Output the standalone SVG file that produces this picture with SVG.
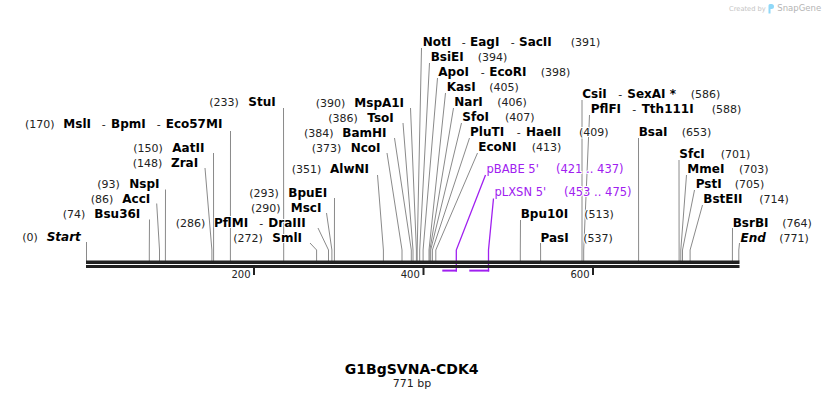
<svg xmlns="http://www.w3.org/2000/svg" width="826" height="400" viewBox="0 0 826 400">
<defs>
<style>
text{paint-order:stroke;stroke:#fff;stroke-width:2px;stroke-linejoin:round}
.b{font-family:"DejaVu Sans",Verdana,sans-serif;font-weight:bold;font-size:12px;fill:#000}
.bi{font-family:"DejaVu Sans",Verdana,sans-serif;font-weight:bold;font-style:italic;font-size:12px;fill:#000}
.n{font-family:"DejaVu Sans",Verdana,sans-serif;font-size:11px;fill:#222}
.f{font-family:"DejaVu Sans",Verdana,sans-serif;font-size:11.5px;fill:#a020f0}
.t{font-family:"DejaVu Sans",Verdana,sans-serif;font-size:10px;fill:#222;text-anchor:end}
.ln{fill:none;stroke:#8a8a8a;stroke-width:1}
.fl{fill:none;stroke:#a020f0;stroke-width:1.3}
.fb{stroke:#a020f0;stroke-width:2}
</style>
</defs>
<rect width="826" height="400" fill="#fff"/>

<g id="connectors">
<polyline class="ln" points="86.5,242 86.5,261"/>
<polyline class="ln" points="149.5,219.5 149.3,250 149.3,261"/>
<polyline class="ln" points="156.7,203.5 159.5,250 159.5,261"/>
<polyline class="ln" points="165.5,189.5 165.4,250 165.4,261"/>
<polyline class="ln" points="205,168 211.9,250 211.9,261"/>
<polyline class="ln" points="213.5,153 213.6,250 213.6,261"/>
<polyline class="ln" points="230.5,131 230.4,250 230.4,261"/>
<polyline class="ln" points="283.5,108 283.7,250 283.7,261"/>
<polyline class="ln" points="318,228 328.5,250 328.5,261"/>
<polyline class="ln" points="310,243 316.6,250 316.6,261"/>
<polyline class="ln" points="326.5,213 331.9,250 331.9,261"/>
<polyline class="ln" points="334.5,198 334.4,250 334.4,261"/>
<polyline class="ln" points="377.5,175 383.4,250 383.4,261"/>
<polyline class="ln" points="387,153 402,250 402,261"/>
<polyline class="ln" points="394.5,138 411.3,250 411.3,261"/>
<polyline class="ln" points="403,123 413,250 413,261"/>
<polyline class="ln" points="410.5,108 416.4,250 416.4,261"/>
<polyline class="ln" points="421.5,48 417.2,250 417.2,261"/>
<polyline class="ln" points="429.5,63 419.7,250 419.7,261"/>
<polyline class="ln" points="437.5,78 423.1,250 423.1,261"/>
<polyline class="ln" points="445.5,93 429,250 429,261"/>
<polyline class="ln" points="453.5,108 429.9,250 429.9,261"/>
<polyline class="ln" points="461.5,123 430.7,250 430.7,261"/>
<polyline class="ln" points="469.5,138 432.4,250 432.4,261"/>
<polyline class="ln" points="477.5,153 435.8,250 435.8,261"/>
<polyline class="ln" points="520.5,220 520.3,250 520.3,261"/>
<polyline class="ln" points="540.5,243 540.6,250 540.6,261"/>
<polyline class="ln" points="582,100 582,250 582,261"/>
<polyline class="ln" points="589.5,115 583.7,250 583.7,261"/>
<polyline class="ln" points="638.5,138 638.6,250 638.6,261"/>
<polyline class="ln" points="679,160 679.1,250 679.1,261"/>
<polyline class="ln" points="686.5,175 680.8,250 680.8,261"/>
<polyline class="ln" points="694.5,190 682.5,250 682.5,261"/>
<polyline class="ln" points="702.5,205 690.1,250 690.1,261"/>
<polyline class="ln" points="732.5,228 732.4,250 732.4,261"/>
<polyline class="ln" points="739.5,243 738.8,250 738.8,261"/>
<polyline class="fl" points="485.5,175 456.3,250 456.3,271.5"/>
<line class="fb" x1="442.3" y1="270.6" x2="457" y2="270.6"/>
<polyline class="fl" points="493.5,198.5 488.5,250 488.5,271.5"/>
<line class="fb" x1="469.3" y1="270.6" x2="489.2" y2="270.6"/>
</g>

<g id="sequence">
<rect x="86" y="260.5" width="653.5" height="3.5" fill="#222"/>
<rect x="86" y="265" width="653.5" height="3" fill="#222"/>
<rect x="253" y="267" width="2" height="8" fill="#222"/>
<rect x="422.5" y="267" width="2" height="8" fill="#222"/>
<rect x="592" y="267" width="2" height="8" fill="#222"/>
<text class="t" x="250.5" y="277.5">200</text>
<text class="t" x="419.8" y="277.5">400</text>
<text class="t" x="589.5" y="277.5">600</text>
</g>

<g id="site-start"><text class="n" x="22.3" y="241">(0)</text><text class="bi" x="46.7" y="241">Start</text></g>
<g id="site-bsu36i"><text class="n" x="62.7" y="218">(74)</text><text class="b" x="94.3" y="218">Bsu36I</text></g>
<g id="site-acci"><text class="n" x="90.7" y="202.7">(86)</text><text class="b" x="122.3" y="202.7">AccI</text></g>
<g id="site-nspi"><text class="n" x="97.3" y="188">(93)</text><text class="b" x="129.3" y="188">NspI</text></g>
<g id="site-zrai"><text class="n" x="132.7" y="166.5">(148)</text><text class="b" x="171" y="166.5">ZraI</text></g>
<g id="site-aatii"><text class="n" x="133.3" y="151.5">(150)</text><text class="b" x="172.3" y="151.5">AatII</text></g>
<g id="site-msli"><text class="n" x="25" y="128.3">(170)</text><text class="b" x="63.3" y="128.3">MslI</text><text class="n" x="101.7" y="128.3">-</text><text class="b" x="111" y="128.3">BpmI</text><text class="n" x="156.7" y="128.3">-</text><text class="b" x="165.7" y="128.3">Eco57MI</text></g>
<g id="site-stui"><text class="n" x="209.3" y="106">(233)</text><text class="b" x="248.3" y="106">StuI</text></g>
<g id="site-pflmi"><text class="n" x="175.7" y="226.5">(286)</text><text class="b" x="214" y="226.5">PflMI</text><text class="n" x="259.3" y="226.5">-</text><text class="b" x="268.3" y="226.5">DraIII</text></g>
<g id="site-smli"><text class="n" x="233.3" y="241.5">(272)</text><text class="b" x="272.3" y="241.5">SmlI</text></g>
<g id="site-msci"><text class="n" x="251" y="211.5">(290)</text><text class="b" x="290.7" y="211.5">MscI</text></g>
<g id="site-bpuei"><text class="n" x="249.3" y="196.5">(293)</text><text class="b" x="288.3" y="196.5">BpuEI</text></g>
<g id="site-alwni"><text class="n" x="291.7" y="173">(351)</text><text class="b" x="330" y="173">AlwNI</text></g>
<g id="site-ncoi"><text class="n" x="311.7" y="151.5">(373)</text><text class="b" x="350.7" y="151.5">NcoI</text></g>
<g id="site-bamhi"><text class="n" x="304" y="136.5">(384)</text><text class="b" x="342.3" y="136.5">BamHI</text></g>
<g id="site-tsoi"><text class="n" x="328.3" y="121.5">(386)</text><text class="b" x="367.3" y="121.5">TsoI</text></g>
<g id="site-mspa1i"><text class="n" x="315.7" y="106.5">(390)</text><text class="b" x="354.3" y="106.5">MspA1I</text></g>

<g id="site-noti"><text class="b" x="422.7" y="46">NotI</text><text class="n" x="461.7" y="46">-</text><text class="b" x="470" y="46">EagI</text><text class="n" x="510.7" y="46">-</text><text class="b" x="519" y="46">SacII</text><text class="n" x="570.7" y="46">(391)</text></g>
<g id="site-bsiei"><text class="b" x="430.7" y="61">BsiEI</text><text class="n" x="477.7" y="61">(394)</text></g>
<g id="site-apoi"><text class="b" x="438.3" y="76">ApoI</text><text class="n" x="480.7" y="76">-</text><text class="b" x="489.3" y="76">EcoRI</text><text class="n" x="540.7" y="76">(398)</text></g>
<g id="site-kasi"><text class="b" x="446.7" y="91">KasI</text><text class="n" x="489.3" y="91">(405)</text></g>
<g id="site-nari"><text class="b" x="454.3" y="106">NarI</text><text class="n" x="497.3" y="106">(406)</text></g>
<g id="site-sfoi"><text class="b" x="462.3" y="121">SfoI</text><text class="n" x="505" y="121">(407)</text></g>
<g id="site-pluti"><text class="b" x="470" y="136">PluTI</text><text class="n" x="516.7" y="136">-</text><text class="b" x="526" y="136">HaeII</text><text class="n" x="579" y="136">(409)</text></g>
<g id="site-econi"><text class="b" x="478.3" y="151">EcoNI</text><text class="n" x="531.7" y="151">(413)</text></g>
<g id="feature-pbabe"><text class="f" x="486.5" y="172.5">pBABE 5'</text><text class="f" x="556" y="172.5">(421 .. 437)</text></g>
<g id="feature-plxsn"><text class="f" x="494.5" y="196">pLXSN 5'</text><text class="f" x="564" y="196">(453 .. 475)</text></g>
<g id="site-bpu10i"><text class="b" x="520.7" y="218.3">Bpu10I</text><text class="n" x="584.3" y="218.3">(513)</text></g>
<g id="site-pasi"><text class="b" x="540.5" y="241.5">PasI</text><text class="n" x="583.3" y="241.5">(537)</text></g>
<g id="site-csii"><text class="b" x="582.3" y="98.3">CsiI</text><text class="n" x="618.3" y="98.3">-</text><text class="b" x="627.3" y="98.3">SexAI *</text><text class="n" x="690.7" y="98.3">(586)</text></g>
<g id="site-pflfi"><text class="b" x="590.7" y="113.3">PflFI</text><text class="n" x="632.3" y="113.3">-</text><text class="b" x="641.7" y="113.3">Tth111I</text><text class="n" x="711.7" y="113.3">(588)</text></g>
<g id="site-bsai"><text class="b" x="638.7" y="136">BsaI</text><text class="n" x="681.7" y="136">(653)</text></g>
<g id="site-sfci"><text class="b" x="679.3" y="158.3">SfcI</text><text class="n" x="720.7" y="158.3">(701)</text></g>
<g id="site-mmei"><text class="b" x="687.3" y="173.3">MmeI</text><text class="n" x="739" y="173.3">(703)</text></g>
<g id="site-psti"><text class="b" x="695.7" y="188.3">PstI</text><text class="n" x="734.7" y="188.3">(705)</text></g>
<g id="site-bsteii"><text class="b" x="703.3" y="203.3">BstEII</text><text class="n" x="759.3" y="203.3">(714)</text></g>
<g id="site-bsrbi"><text class="b" x="732.7" y="226.5">BsrBI</text><text class="n" x="782.3" y="226.5">(764)</text></g>
<g id="site-end"><text class="bi" x="740.5" y="241.5">End</text><text class="n" x="779.3" y="241.5">(771)</text></g>

<g id="title">
<text x="411.7" y="374" text-anchor="middle" style="font-family:'DejaVu Sans',Verdana,sans-serif;font-weight:bold;font-size:14px;fill:#000">G1BgSVNA-CDK4</text>
<text x="412" y="386.5" text-anchor="middle" style="font-family:'DejaVu Sans',Verdana,sans-serif;font-size:11px;fill:#222">771 bp</text>
</g>

<g id="credit">
<text x="729" y="10.5" style="font-family:'DejaVu Sans',sans-serif;font-size:6.7px;fill:#c4c4c4;stroke:none">Created by</text>
<path d="M768.5,13.5 V5.5 Q768.5,4 770,4 H771.5 Q774,4 774,6.5 Q774,9 771.5,9 H770.5 V13.5 Z" fill="#8fd8f8"/>
<text x="777.3" y="11" style="font-family:'DejaVu Sans',sans-serif;font-size:8.5px;fill:#b4b4b4;stroke:none">SnapGene</text>
</g>
</svg>
